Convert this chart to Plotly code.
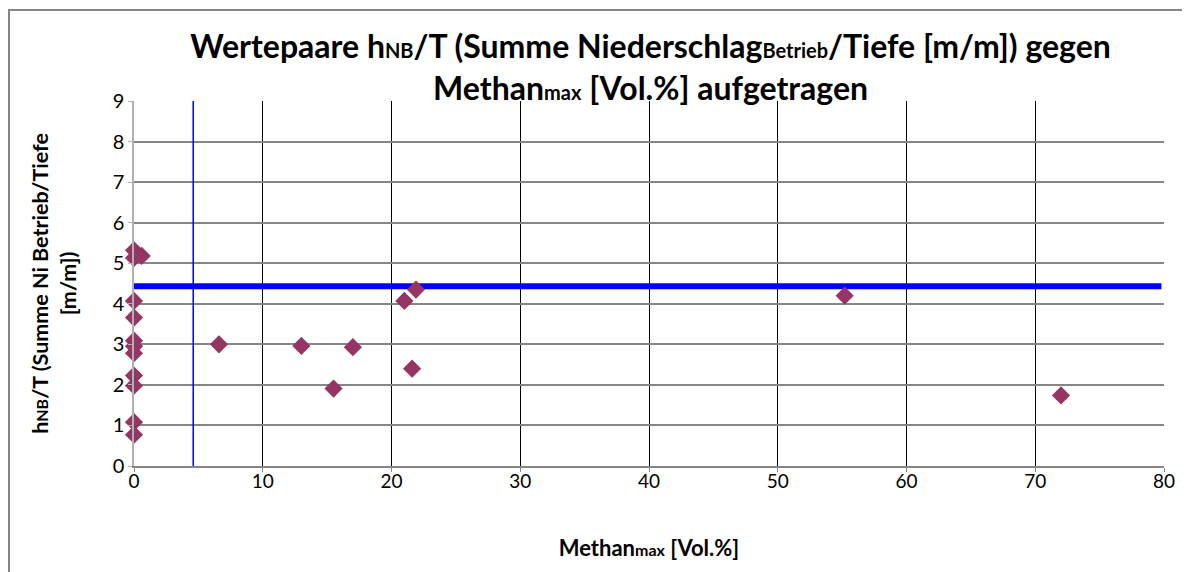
import plotly.graph_objects as go

# Data points (Methan max [Vol.%], hNB/T [m/m])
methan_max = [0, 0, 0.6, 0.3, 0, 0, 0, 0, 0, 0, 0, 0, 0,
              6.6, 13.0, 17.0, 15.5, 21.0, 21.9, 21.6, 55.2, 72.0]
h_nb_t = [5.32, 5.13, 5.18, 5.22, 4.07, 3.66, 3.09, 2.95, 2.78, 2.23, 1.98, 1.08, 0.77,
          3.0, 2.96, 2.93, 1.91, 4.07, 4.35, 2.40, 4.2, 1.74]

# Reference lines
hline_y = 4.43
hline_x = [0, 79.8]
vline_x = 4.6
vline_y = [0, 9]

x_ticks = [0, 10, 20, 30, 40, 50, 60, 70, 80]
y_ticks = [0, 1, 2, 3, 4, 5, 6, 7, 8, 9]

FONT = "Lato"
sub = lambda s, px: f'<span style="font-size:{px}px">{s}</span>'

L, T, PW, PH = 126, 93, 1030, 365
W, H = 1190, 572

fig = go.Figure()
fig.add_trace(go.Scatter(x=[vline_x, vline_x], y=vline_y, mode="lines",
                         line=dict(color="#0000ff", width=1.5), showlegend=False, hoverinfo="skip"))
fig.add_trace(go.Scatter(x=hline_x, y=[hline_y, hline_y], mode="lines",
                         line=dict(color="#0000ff", width=6), showlegend=False, hoverinfo="skip"))
fig.add_trace(go.Scatter(x=methan_max, y=h_nb_t, mode="markers", cliponaxis=False,
                         marker=dict(symbol="diamond", size=14, color="#953563"),
                         showlegend=False))

title = ("Wertepaare h" + sub("NB", 20) + "/T (Summe Niederschlag" + sub("Betrieb", 20)
         + "/Tiefe [m/m]) gegen<br>Methan" + sub("max", 20) + " [Vol.%] aufgetragen")

fig.update_layout(
    width=W, height=H,
    margin=dict(l=L, r=W - L - PW, t=T, b=H - T - PH),
    paper_bgcolor="white", plot_bgcolor="white",
    font=dict(family=FONT, color="black"),
    title=dict(text=title, x=0.540, xanchor="center", y=0.912, yanchor="middle",
               yref="container", font=dict(family=FONT, size=32, color="black", weight="bold")),
    xaxis=dict(range=[0, 80], tickvals=x_ticks, showgrid=True, gridcolor="black", gridwidth=1.3,
               zeroline=False, showline=True, linecolor="#868686", linewidth=2,
               ticks="outside", ticklen=4, tickcolor="#868686",
               tickfont=dict(family=FONT, size=19), ticklabelstandoff=-7,
               title=dict(text="Methan" + sub("max", 16) + " [Vol.%]", standoff=50,
                          font=dict(family=FONT, size=22, weight="bold"))),
    yaxis=dict(range=[0, 9], tickvals=y_ticks, showgrid=True, gridcolor="#868686", gridwidth=1.6,
               zeroline=False, showline=True, linecolor="#b0b0b0", linewidth=1.5,
               ticks="outside", ticklen=4, tickcolor="#b0b0b0",
               tickfont=dict(family=FONT, size=20),
               title=dict(text="h" + sub("NB", 16) + "/T (Summe Ni Betrieb/Tiefe<br>[m/m])", standoff=30,
                          font=dict(family=FONT, size=21.5, weight="bold"))),
    shapes=[dict(type="rect", xref="paper", yref="paper",
                 x0=(1 - L) / PW, x1=1.2, y0=-0.5, y1=1 + (T - 2) / PH,
                 line=dict(color="#868686", width=2), fillcolor="rgba(0,0,0,0)", layer="below")],
)

fig.write_html("out.html")
